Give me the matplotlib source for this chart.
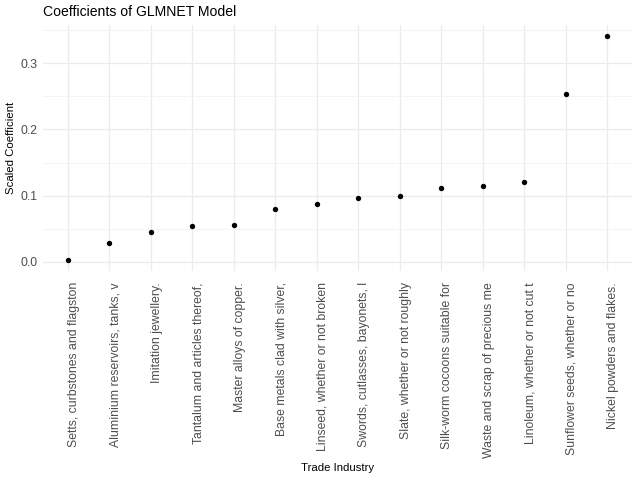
import matplotlib
matplotlib.use("Agg")
import matplotlib.pyplot as plt
from matplotlib.ticker import MultipleLocator

plt.rcParams['font.family'] = ['Liberation Sans', 'DejaVu Sans']

industries = [
    "Setts, curbstones and flagston",
    "Aluminium reservoirs, tanks, v",
    "Imitation jewellery.",
    "Tantalum and articles thereof,",
    "Master alloys of copper.",
    "Base metals clad with silver,",
    "Linseed, whether or not broken",
    "Swords, cutlasses, bayonets, l",
    "Slate, whether or not roughly",
    "Silk-worm cocoons suitable for",
    "Waste and scrap of precious me",
    "Linoleum, whether or not cut t",
    "Sunflower seeds, whether or no",
    "Nickel powders and flakes.",
]
coefficients = [0.003, 0.029, 0.045, 0.054, 0.055, 0.080, 0.088,
                0.097, 0.099, 0.111, 0.114, 0.120, 0.253, 0.341]
y_ticks = [0.0, 0.1, 0.2, 0.3]
y_tick_labels = ["0.0", "0.1", "0.2", "0.3"]

fig = plt.figure(figsize=(6.4, 4.8), dpi=100)
ax = fig.add_axes([43 / 640, 0.4354, (632 - 43) / 640, 0.5126])

x = list(range(len(industries)))
ax.scatter(x, coefficients, s=15, color='black', zorder=3, linewidths=0)

n = len(industries)
ax.set_xlim(-0.6, n - 1 + 0.6)
rng = max(coefficients) - min(coefficients)
ax.set_ylim(min(coefficients) - 0.05 * rng, max(coefficients) + 0.05 * rng)

ax.set_xticks(x)
ax.set_xticklabels(industries, rotation=90, ha='left', va='top',
                   fontsize=8.8, color='#4D4D4D')
ax.yaxis.set_minor_locator(MultipleLocator(0.05))
ax.set_yticks(y_ticks)
ax.set_yticklabels(y_tick_labels, fontsize=8.8, color='#4D4D4D')
ax.tick_params(axis='x', which='both', length=0, pad=8)
ax.tick_params(axis='y', which='both', length=0, pad=4)

ax.grid(True, which='major', color='#EBEBEB', linewidth=0.9)
ax.grid(True, which='minor', axis='y', color='#F3F3F3', linewidth=0.6)
ax.set_axisbelow(True)
for s in ax.spines.values():
    s.set_visible(False)

ax.set_xlabel("Trade Industry", fontsize=8.2, va='center')
ax.xaxis.set_label_coords(0.5, ((480 - 468) / 480 - 0.4354) / 0.5126)
ax.set_ylabel("Scaled Coefficient", fontsize=8.2, va='center')
ax.yaxis.set_label_coords((11 - 43) / 589, 0.5)
fig.text(43 / 640, (480 - 12.5) / 480, "Coefficients of GLMNET Model",
         fontsize=10.1, ha='left', va='center')

fig.savefig("out.png", dpi=100)
